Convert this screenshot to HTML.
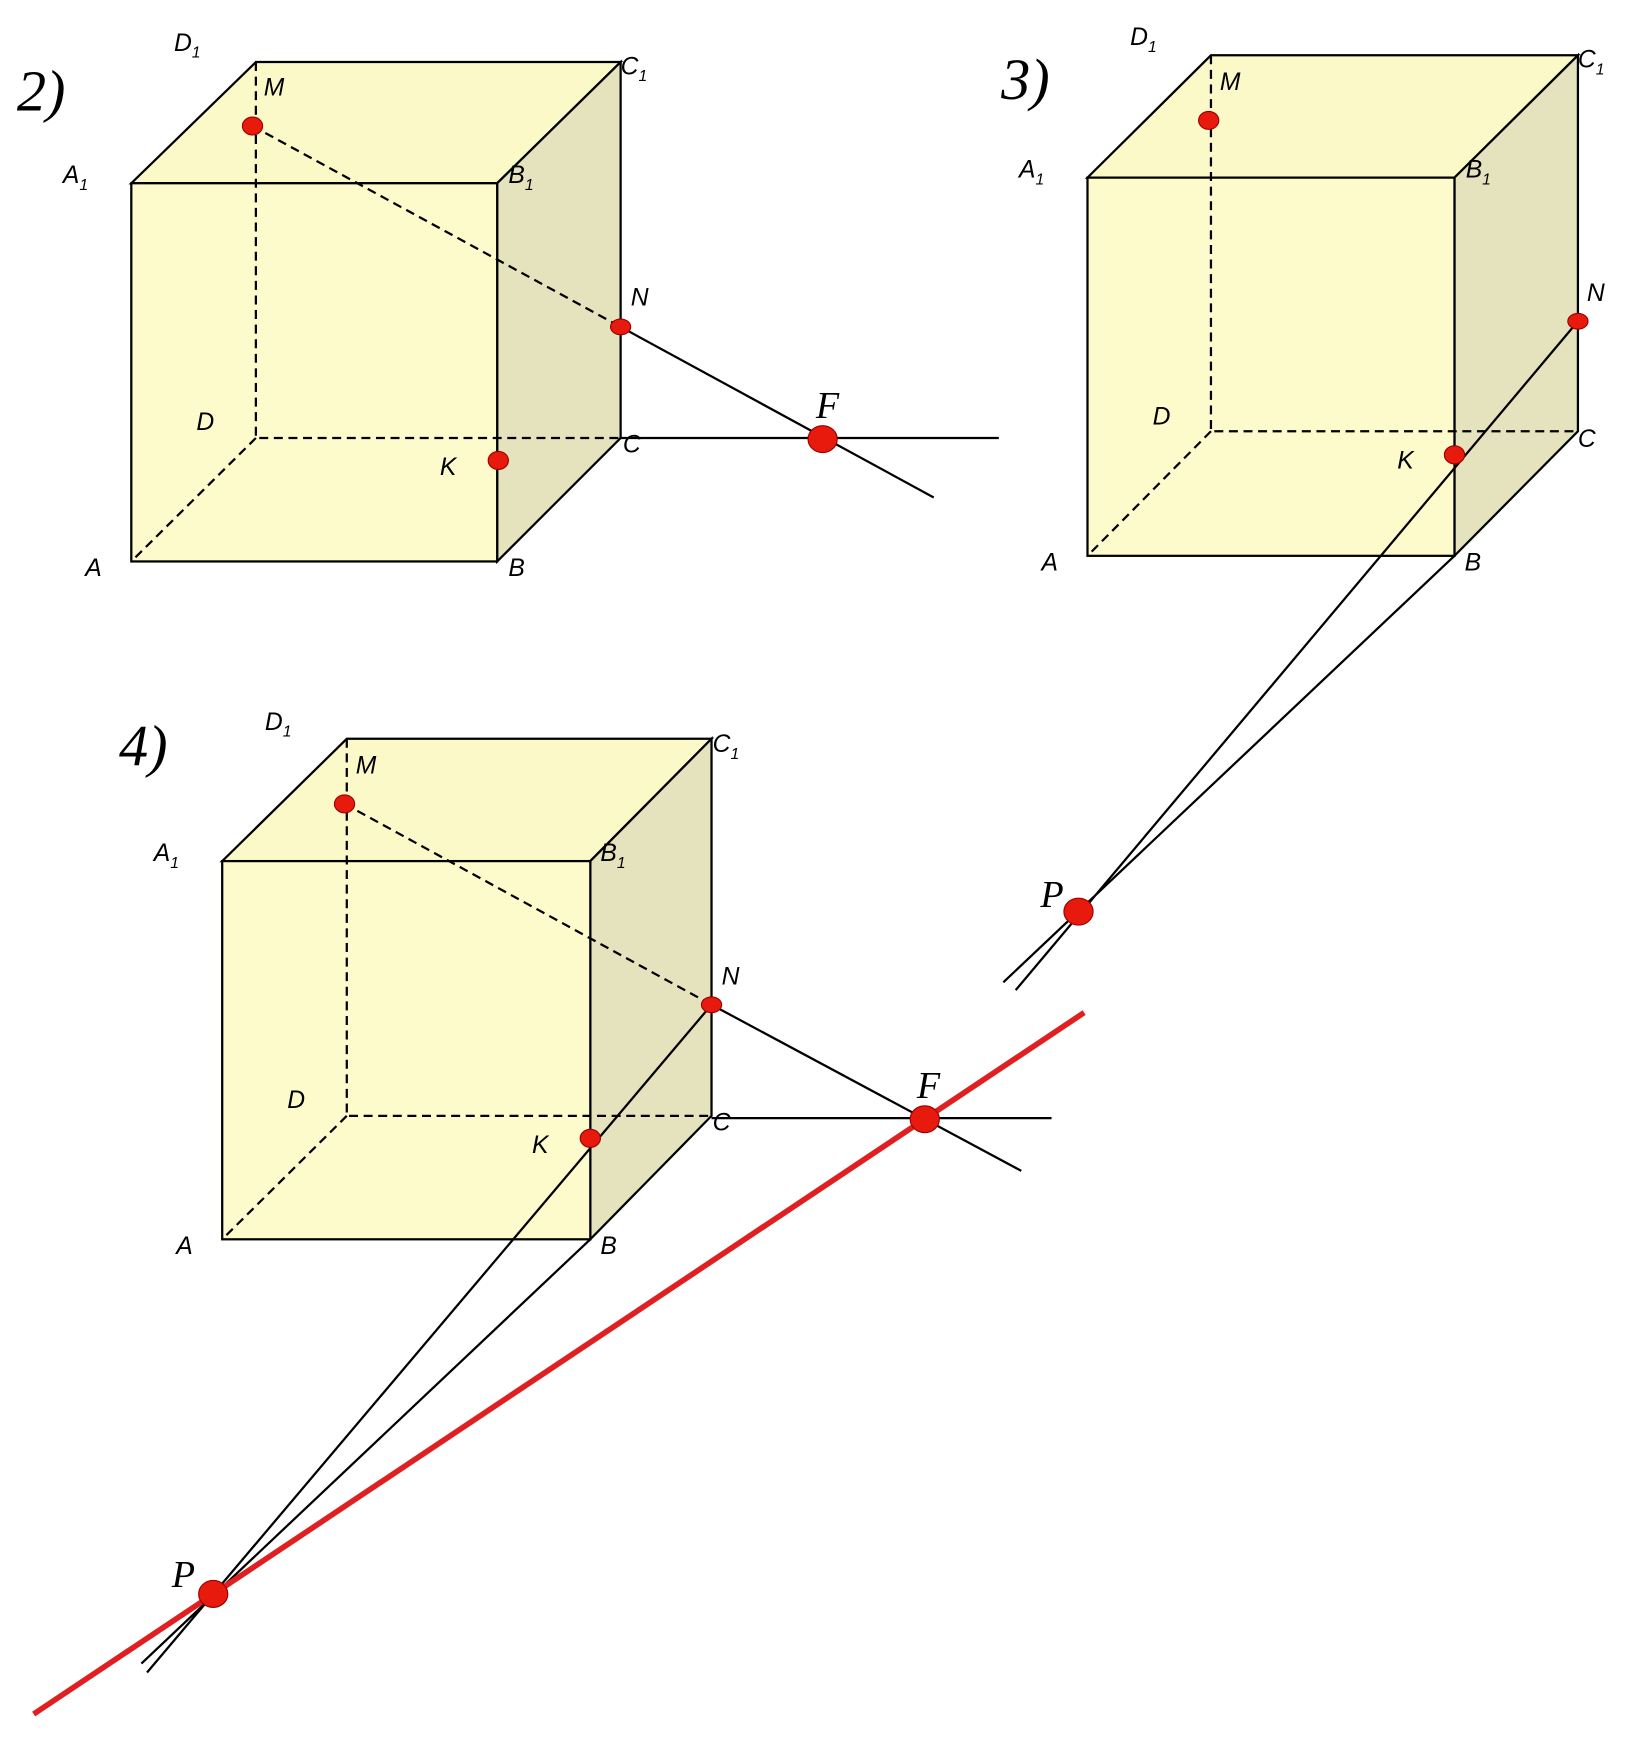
<!DOCTYPE html>
<html><head><meta charset="utf-8"><style>
html,body{margin:0;padding:0;background:#fff;}
svg{display:block;}
.l{font-family:"Liberation Sans",sans-serif;font-style:italic;font-size:22px;fill:#000;}
.s{font-size:14px;}
.n{font-family:"Liberation Serif",serif;font-style:italic;font-size:52px;}
.f{font-family:"Liberation Serif",serif;font-style:italic;font-size:34px;}
</style></head><body>
<svg width="1652" height="1748" viewBox="0 0 1472 1557" xmlns="http://www.w3.org/2000/svg">
<g stroke="#000" stroke-width="2" fill="none">
<!-- cube 2 -->
<polygon points="117,163 443,163 553,55 228,55" fill="#fbf9c8"/>
<polygon points="443,163 553,55 553,390 443,500" fill="#e4e3bd"/>
<rect x="117" y="163" width="326" height="337" fill="#fdfbcb"/>
<path d="M228,55V390H553M228,390L117,500" stroke-dasharray="8,5"/>
<path d="M225,112L553,291" stroke-dasharray="8,5"/>
<path d="M553,291L832,443M553,390H890"/>
<!-- cube 3 -->
<polygon points="969,158 1296,158 1406,49 1079,49" fill="#fbf9c8"/>
<polygon points="1296,158 1406,49 1406,384 1296,495" fill="#e4e3bd"/>
<rect x="969" y="158" width="327" height="337" fill="#fdfbcb"/>
<path d="M1079,49V384H1406M1079,384L969,495" stroke-dasharray="8,5"/>
<path d="M1406,286L905,882M1296,495L894,875"/>
<!-- cube 4 -->
<polygon points="198,767 526,767 634,658 309,658" fill="#fbf9c8"/>
<polygon points="526,767 634,658 634,994 526,1104" fill="#e4e3bd"/>
<rect x="198" y="767" width="328" height="337" fill="#fdfbcb"/>
<path d="M309,658V994H634M309,994L198,1104" stroke-dasharray="8,5"/>
<path d="M307,716L634,895" stroke-dasharray="8,5"/>
<path d="M634,895L910,1043M634,996H937M634,895L131,1490M526,1104L126,1482"/>
</g>
<line x1="30" y1="1527" x2="966" y2="902" stroke="#e02020" stroke-width="5"/>
<g fill="#e81a0e" stroke="#900" stroke-width="1">
<ellipse cx="225" cy="112" rx="9" ry="8"/><ellipse cx="553" cy="291" rx="9" ry="7"/>
<ellipse cx="444" cy="410" rx="9" ry="8"/><ellipse cx="733" cy="391" rx="13" ry="12"/>
<ellipse cx="1077" cy="107" rx="9" ry="8"/><ellipse cx="1406" cy="286" rx="9" ry="7"/>
<ellipse cx="1296" cy="405" rx="9" ry="8"/><ellipse cx="961" cy="812" rx="13" ry="12"/>
<ellipse cx="307" cy="716" rx="9" ry="8"/><ellipse cx="634" cy="895" rx="9" ry="7"/>
<ellipse cx="526" cy="1014" rx="9" ry="8"/><ellipse cx="824" cy="997" rx="13" ry="12"/>
<ellipse cx="190" cy="1420" rx="13" ry="12"/>
</g>
<text class="n" x="15" y="98">2)</text>
<text class="n" x="892" y="88">3)</text>
<text class="n" x="106" y="682">4)</text>
<g class="l">
<text x="155" y="45">D<tspan class="s" dy="6">1</tspan></text>
<text x="553" y="66">C<tspan class="s" dy="6">1</tspan></text>
<text x="56" y="163">A<tspan class="s" dy="6">1</tspan></text>
<text x="453" y="163">B<tspan class="s" dy="6">1</tspan></text>
<text x="235" y="85">M</text><text x="562" y="272">N</text>
<text x="175" y="383">D</text><text x="555" y="403">C</text>
<text x="392" y="423">K</text><text x="76" y="513">A</text><text x="453" y="513">B</text>
<text x="1007" y="40">D<tspan class="s" dy="6">1</tspan></text>
<text x="1406" y="60">C<tspan class="s" dy="6">1</tspan></text>
<text x="908" y="158">A<tspan class="s" dy="6">1</tspan></text>
<text x="1306" y="158">B<tspan class="s" dy="6">1</tspan></text>
<text x="1087" y="80">M</text><text x="1414" y="268">N</text>
<text x="1027" y="378">D</text><text x="1406" y="398">C</text>
<text x="1245" y="417">K</text><text x="928" y="508">A</text><text x="1305" y="508">B</text>
<text x="236" y="650">D<tspan class="s" dy="6">1</tspan></text>
<text x="635" y="670">C<tspan class="s" dy="6">1</tspan></text>
<text x="137" y="767">A<tspan class="s" dy="6">1</tspan></text>
<text x="535" y="767">B<tspan class="s" dy="6">1</tspan></text>
<text x="317" y="689">M</text><text x="643" y="877">N</text>
<text x="256" y="987">D</text><text x="635" y="1007">C</text>
<text x="474" y="1027">K</text><text x="157" y="1117">A</text><text x="535" y="1117">B</text>
</g>
<g class="f">
<text x="727" y="372">F</text><text x="927" y="808">P</text>
<text x="817" y="978">F</text><text x="153" y="1414">P</text>
</g>
</svg>
</body></html>
